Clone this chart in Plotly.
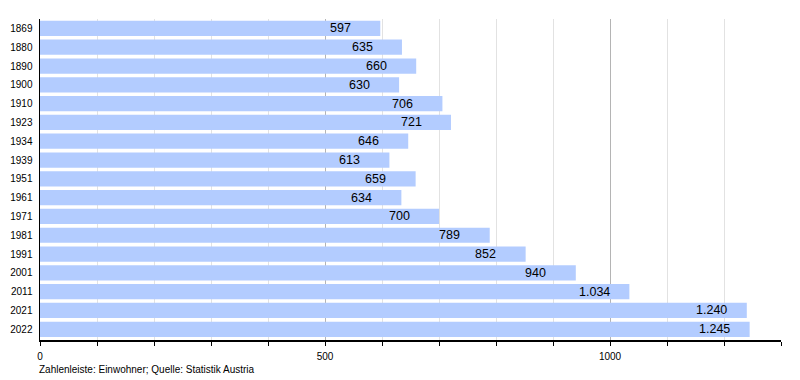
import plotly.graph_objects as go

years = ["1869", "1880", "1890", "1900", "1910", "1923", "1934", "1939", "1951",
         "1961", "1971", "1981", "1991", "2001", "2011", "2021", "2022"]
population = [597, 635, 660, 630, 706, 721, 646, 613, 659, 634, 700, 789, 852,
              940, 1034, 1240, 1245]
x_ticks = [0, 500, 1000]
x_tick_labels = ["0", "500", "1000"]
footer = "Zahlenleiste: Einwohner; Quelle: Statistik Austria"

FONT = "Liberation Sans, Arial, sans-serif"

def fmt(v):
    return f"{v:,}".replace(",", ".")

fig = go.Figure()
fig.add_trace(go.Bar(
    x=population, y=years, orientation="h",
    marker=dict(color="#b3ccff", line=dict(width=0)),
    width=0.81, hoverinfo="skip",
))

annotations = []
for i, v in enumerate(population):
    annotations.append(dict(
        x=v - 92, y=i, xref="x", yref="y", text=fmt(v), showarrow=False,
        xanchor="left", yanchor="middle",
        font=dict(family=FONT, size=12.5, color="#000"),
    ))
annotations.append(dict(
    x=0, y=0, xref="paper", yref="paper", text=footer, showarrow=False,
    xanchor="left", yanchor="top", yshift=-22, xshift=-3,
    font=dict(family=FONT, size=10, color="#000"),
))

fig.update_layout(
    width=800, height=380,
    margin=dict(l=40, r=19, t=19, b=40, autoexpand=False),
    paper_bgcolor="white", plot_bgcolor="white",
    showlegend=False, bargap=0.19,
    annotations=annotations,
    font=dict(family=FONT, size=10, color="#000"),
)
fig.update_xaxes(
    range=[0, 1300], tickvals=x_ticks, ticktext=x_tick_labels,
    showgrid=True, gridcolor="#b4b4b4", gridwidth=1,
    showline=True, linecolor="#000", linewidth=1.5,
    ticks="outside", ticklen=4, tickcolor="#000", tickwidth=1,
    zeroline=False, tickfont=dict(size=10), automargin=False,
    ticklabelstandoff=2,
    minor=dict(dtick=100, tick0=0, showgrid=True, gridcolor="#e2e2e2", gridwidth=1,
               ticks="outside", ticklen=4, tickcolor="#000"),
)
fig.update_yaxes(
    type="category", range=[16.57, -0.5], automargin=False,
    showgrid=False, showline=True, linecolor="#000", linewidth=1.5,
    ticks="", tickfont=dict(size=10), ticklabelstandoff=4,
)

fig.write_html(
    "out.html",
    config={"displayModeBar": False, "staticPlot": True},
    post_script="document.body.style.margin='0';document.body.style.overflow='hidden';",
)
